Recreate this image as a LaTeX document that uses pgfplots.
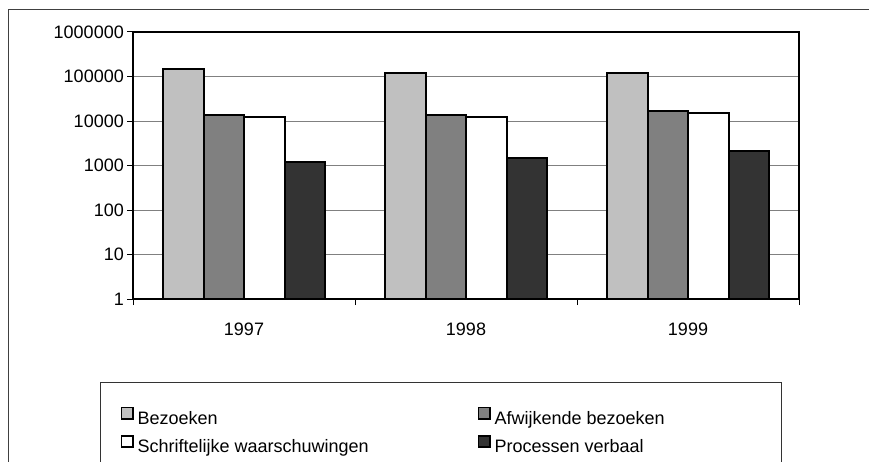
\documentclass[border=0pt]{standalone}
\usepackage{fontspec}
\setmainfont{Liberation Sans}
\usepackage{pgfplots}
\pgfplotsset{compat=1.18}
\definecolor{barA}{HTML}{C0C0C0}
\definecolor{barB}{HTML}{808080}
\definecolor{barD}{HTML}{333333}
\definecolor{gridc}{HTML}{808080}
\newcommand{\cf}{\fontsize{18pt}{21pt}\selectfont}
\begin{document}
\begin{tikzpicture}[x=1pt,y=1pt]
\useasboundingbox (0,0) rectangle (869,461);
\clip (0,0) rectangle (869,461);
\draw[black!75, line width=1.3pt] (8.5,451.5) -- (880,451.5);
\draw[black!75, line width=1.3pt] (8.5,451.5) -- (8.5,-20);
\begin{axis}[
  at={(133pt,162pt)}, anchor=south west,
  scale only axis, width=666pt, height=267pt,
  ymode=log, ymin=1, ymax=1000000, xmin=0, xmax=3,
  log origin=0,
  ybar=0pt, bar width=40.5pt,
  ytick={1,10,100,1000,10000,100000,1000000},
  yticklabels={1,10,100,1000,10000,100000,1000000},
  yminorticks=false,
  ymajorgrids, grid style={gridc, line width=1pt},
  xtick={0,1,2,3}, xticklabels={},
  extra x ticks={0.5,1.5,2.5},
  extra x tick labels={1997,1998,1999},
  extra x tick style={major tick length=0pt, grid=none},
  tick pos=left, tick align=outside, major tick length=6pt,
  tick style={black, line width=1pt},
  axis line style={black, line width=1.8pt},
  /pgf/number format/assume math mode=true,
  ticklabel style={font=\cf},
  yticklabel style={inner sep=0pt, xshift=-3pt},
  xticklabel style={inner sep=0pt, yshift=-24pt},
  legend style={
    at={(axis description cs:-0.04955,-0.3109)}, anchor=north west,
    draw=black!80, line width=1pt, fill=white,
    inner xsep=20pt, inner ysep=24pt,
    font=\cf, row sep=7pt,
    nodes={inner sep=0pt, text height=13pt, text depth=4pt},
    /tikz/every odd column/.append style={column sep=4pt},
  },
  legend columns=2,
  legend cell align=left,
  legend image code/.code={\draw[#1, draw=black, line width=1.6pt] (0.8pt,0.8pt) rectangle (12.2pt,12.2pt);},
]
\addplot[draw=black, line width=2pt, fill=barA] coordinates {(0.5,150000) (1.5,121000) (2.5,121000)};
\addplot[draw=black, line width=2pt, fill=barB] coordinates {(0.5,13600) (1.5,13600) (2.5,17100)};
\addplot[draw=black, line width=2pt, fill=white] coordinates {(0.5,12300) (1.5,12300) (2.5,15200)};
\addplot[draw=black, line width=2pt, fill=barD] coordinates {(0.5,1230) (1.5,1470) (2.5,2070)};
\legend{\makebox[340pt][l]{Bezoeken},\makebox[267pt][l]{Afwijkende bezoeken},\makebox[340pt][l]{Schriftelijke waarschuwingen},\makebox[267pt][l]{Processen verbaal}}
\end{axis}
\end{tikzpicture}
\end{document}
